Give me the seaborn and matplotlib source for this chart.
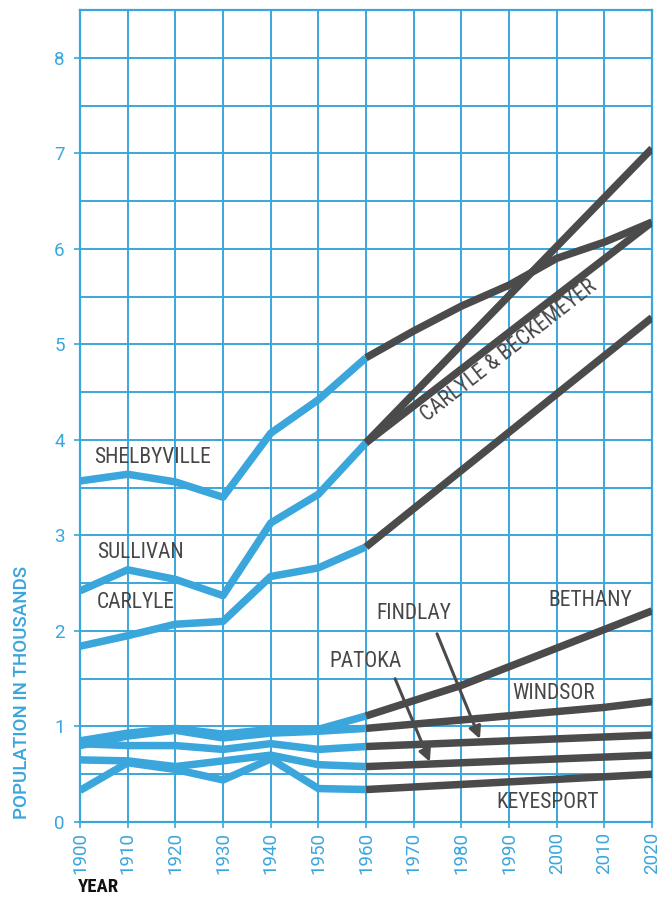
import matplotlib
matplotlib.use("Agg")
import matplotlib.pyplot as plt
import seaborn as sns
import numpy as np

# ---------------- data ----------------
years_hist = [1900, 1910, 1920, 1930, 1940, 1950, 1960]
shelbyville_hist = [3.57, 3.64, 3.56, 3.40, 4.07, 4.42, 4.86]
sullivan_hist = [2.42, 2.64, 2.54, 2.37, 3.13, 3.43, 3.97]
carlyle_hist = [1.84, 1.95, 2.07, 2.10, 2.57, 2.66, 2.88]
bethany_hist = [0.85, 0.93, 0.98, 0.92, 0.97, 0.97, 1.11]
windsor_hist = [0.80, 0.90, 0.96, 0.88, 0.93, 0.95, 0.98]
findlay_hist = [0.82, 0.80, 0.80, 0.76, 0.82, 0.76, 0.79]
patoka_hist = [0.65, 0.64, 0.58, 0.64, 0.70, 0.60, 0.58]
keyesport_hist = [0.33, 0.62, 0.55, 0.44, 0.66, 0.35, 0.34]

shelbyville_proj_years = [1960, 1970, 1980, 1990, 2000, 2010, 2020]
shelbyville_proj = [4.86, 5.14, 5.40, 5.62, 5.90, 6.07, 6.28]
sullivan_proj_years = [1960, 2020]
sullivan_proj = [3.97, 7.05]
carlyle_beck_proj_years = [1960, 2020]
carlyle_beck_proj = [3.97, 6.28]
carlyle_proj_years = [1960, 2020]
carlyle_proj = [2.88, 5.28]
bethany_proj_years = [1960, 1980, 2020]
bethany_proj = [1.11, 1.43, 2.21]
windsor_proj_years = [1960, 2010, 2020]
windsor_proj = [0.98, 1.20, 1.26]
findlay_proj_years = [1960, 2020]
findlay_proj = [0.79, 0.91]
patoka_proj_years = [1960, 2020]
patoka_proj = [0.58, 0.70]
keyesport_proj_years = [1960, 2020]
keyesport_proj = [0.34, 0.50]

x_ticks = list(range(1900, 2021, 10))
y_ticks = [0, 1, 2, 3, 4, 5, 6, 7, 8]

# ---------------- style ----------------
BLUE = "#3aa6dc"
DARK = "#4b4b4b"
TXT = "#474747"
COND = ["Roboto Condensed", "DejaVu Sans"]
REG = ["Roboto", "DejaVu Sans"]

sns.set_theme(style="white")
plt.rcParams["font.family"] = REG

fig = plt.figure(figsize=(6.69, 8.97), dpi=100)
ax = fig.add_axes([80 / 669, 1 - 822 / 897, (652 - 80) / 669, (822 - 10) / 897])

hist = [shelbyville_hist, sullivan_hist, carlyle_hist, bethany_hist,
        windsor_hist, findlay_hist, patoka_hist, keyesport_hist]
for vals in hist:
    sns.lineplot(x=years_hist, y=vals, ax=ax, color=BLUE, lw=5.4,
                 solid_joinstyle="round", solid_capstyle="butt", zorder=3)

proj = [(shelbyville_proj_years, shelbyville_proj),
        (sullivan_proj_years, sullivan_proj),
        (carlyle_beck_proj_years, carlyle_beck_proj),
        (carlyle_proj_years, carlyle_proj),
        (bethany_proj_years, bethany_proj),
        (windsor_proj_years, windsor_proj),
        (findlay_proj_years, findlay_proj),
        (patoka_proj_years, patoka_proj),
        (keyesport_proj_years, keyesport_proj)]
for yrs, vals in proj:
    sns.lineplot(x=yrs, y=vals, ax=ax, color=DARK, lw=5.4,
                 solid_joinstyle="round", solid_capstyle="butt", zorder=4)

ax.set_xlim(1900, 2020)
ax.set_ylim(0, 8.5)
ax.set_xticks(x_ticks)
ax.set_xticklabels([str(t) for t in x_ticks], rotation=90)
ax.set_yticks(y_ticks)
ax.set_yticks(np.arange(0.5, 8.5, 1.0), minor=True)
ax.grid(True, which="both", color=BLUE, lw=1.4, zorder=0)
ax.grid(False, which="minor", axis="x")
for s in ax.spines.values():
    s.set_color(BLUE)
    s.set_linewidth(1.6)
ax.tick_params(axis="both", which="major", colors=BLUE, labelsize=13.5,
               length=4, width=1.2, direction="out", left=True, bottom=True)
ax.tick_params(axis="both", which="minor", length=0)
ax.tick_params(axis="y", pad=7)
ax.tick_params(axis="x", pad=3)
for lab in ax.get_xticklabels() + ax.get_yticklabels():
    lab.set_color(BLUE)
    lab.set_family(REG)
ax.set_xlabel("")
ax.set_ylabel("")

# ---------------- annotations ----------------
tkw = dict(color=TXT, fontsize=15.5, family=COND, zorder=6)
ax.text(1903, 3.82, "SHELBYVILLE", ha="left", va="center", **tkw)
ax.text(1903.5, 2.82, "SULLIVAN", ha="left", va="center", **tkw)
ax.text(1903.5, 2.30, "CARLYLE", ha="left", va="center", **tkw)
ax.text(1990.0, 4.93, "CARLYLE & BECKEMEYER", ha="center", va="center",
        rotation=38, rotation_mode="anchor", **tkw)
ax.text(1970.1, 2.18, "FINDLAY", ha="center", va="center", **tkw)
ax.text(1959.8, 1.68, "PATOKA", ha="center", va="center", **tkw)
ax.text(2007.0, 2.32, "BETHANY", ha="center", va="center", **tkw)
ax.text(1999.4, 1.35, "WINDSOR", ha="center", va="center", **tkw)
ax.text(1998.0, 0.20, "KEYESPORT", ha="center", va="center", **tkw)

akw = dict(arrowstyle="-|>,head_length=0.6,head_width=0.3", color=DARK, lw=2.2,
           shrinkA=0, shrinkB=0)
ax.annotate("", xy=(1983.9, 0.87), xytext=(1974.9, 1.97), arrowprops=akw, zorder=6)
ax.annotate("", xy=(1973.4, 0.63), xytext=(1966.1, 1.50), arrowprops=akw, zorder=6)

fig.text(22 / 669, 1 - 692 / 897, "POPULATION IN THOUSANDS", rotation=90,
         ha="center", va="center", color=BLUE, fontsize=13.5, family=REG,
         fontweight="medium")
fig.text(78 / 669, 1 - 887 / 897, "YEAR", ha="left", va="center",
         color="#111111", fontsize=13.5, family=COND, fontweight="bold")

fig.savefig("out.png", dpi=100, facecolor="white")
